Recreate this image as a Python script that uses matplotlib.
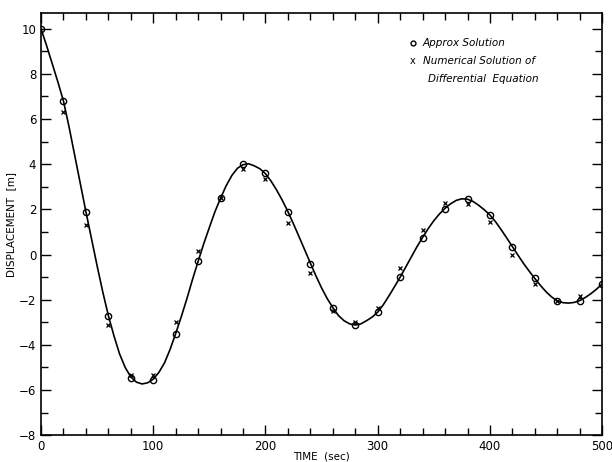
import matplotlib.pyplot as plt

# smooth curve every 5 s
t_curve = list(range(0, 501, 5))
d_curve = [10.0, 9.25, 8.45, 7.65, 6.8, 5.65, 4.4, 3.15, 1.9, 0.7,
           -0.5, -1.65, -2.7, -3.6, -4.4, -5.0, -5.42, -5.65, -5.73, -5.68,
           -5.52, -5.22, -4.8, -4.2, -3.5, -2.75, -1.95, -1.1, -0.3, 0.48,
           1.2, 1.9, 2.5, 3.05, 3.5, 3.82, 3.98, 4.02, 3.93, 3.8,
           3.58, 3.25, 2.85, 2.4, 1.9, 1.35, 0.78, 0.2, -0.38, -0.95,
           -1.48, -1.95, -2.35, -2.7, -2.93, -3.07, -3.12, -3.07, -2.93, -2.77,
           -2.55, -2.22, -1.83, -1.42, -1.0, -0.55, -0.1, 0.35, 0.76, 1.15,
           1.5, 1.8, 2.05, 2.25, 2.4, 2.47, 2.45, 2.35, 2.18, 1.98,
           1.75, 1.45, 1.1, 0.73, 0.35, -0.03, -0.4, -0.74, -1.06, -1.37,
           -1.65, -1.88, -2.05, -2.13, -2.15, -2.12, -2.04, -1.9, -1.73, -1.53,
           -1.3]

# approx solution (circles) every 20 s
t_pts = list(range(0, 501, 20))
approx = [10.0, 6.8, 1.9, -2.7, -5.45, -5.55, -3.5, -0.3, 2.5, 4.0,
          3.6, 1.9, -0.4, -2.35, -3.1, -2.55, -1.0, 0.75, 2.0, 2.45,
          1.75, 0.35, -1.05, -2.05, -2.05, -1.3]

# numerical solution (x)
t_num = list(range(20, 481, 20))
numer = [6.3, 1.3, -3.1, -5.35, -5.35, -3.0, 0.15, 2.5, 3.8, 3.35,
         1.4, -0.8, -2.5, -3.0, -2.35, -0.6, 1.1, 2.3, 2.25, 1.45,
         0.0, -1.3, -2.05, -1.85]

plt.rcParams['font.family'] = 'DejaVu Sans'
fig = plt.figure(figsize=(6.12, 4.62), dpi=100)
ax = fig.add_axes([0.067, 0.058, 0.917, 0.914])

ax.plot(t_curve, d_curve, color='black', lw=1.2)
ax.plot(t_pts, approx, 'o', ms=4.5, mfc='none', mec='black', mew=1.0)
ax.plot(t_num, numer, 'x', ms=3.5, color='black', mew=0.9)

ax.set_xlim(0, 500)
ax.set_ylim(-8, 10.7)
ax.set_xticks(range(0, 501, 100))
ax.set_xticks(range(0, 501, 20), minor=True)
ax.set_yticks(range(-8, 11, 2))
ax.set_yticks(range(-8, 11, 1), minor=True)
ax.tick_params(which='both', direction='in', top=True, right=True,
               labelsize=8.5, width=1.0)
ax.tick_params(which='major', length=7)
ax.tick_params(which='minor', length=5)
for s in ax.spines.values():
    s.set_linewidth(1.2)

ax.set_xlabel('TIME  (sec)', fontsize=7.5, labelpad=-1)
ax.set_ylabel('DISPLACEMENT  [m]', fontsize=7.5, labelpad=2)

ax.plot([0.663], [0.929], 'o', ms=3.5, mfc='none', mec='black', mew=1.0,
        transform=ax.transAxes)
ax.text(0.68, 0.929, 'Approx Solution', fontsize=7.5, style='italic',
         transform=ax.transAxes, va='center')
ax.text(0.657, 0.886, 'x', fontsize=7, transform=ax.transAxes, va='center')
ax.text(0.68, 0.886, 'Numerical Solution of', fontsize=7.5, style='italic',
         transform=ax.transAxes, va='center')
ax.text(0.69, 0.843, 'Differential  Equation', fontsize=7.5, style='italic',
         transform=ax.transAxes, va='center')

fig.savefig('out.png', dpi=100)
